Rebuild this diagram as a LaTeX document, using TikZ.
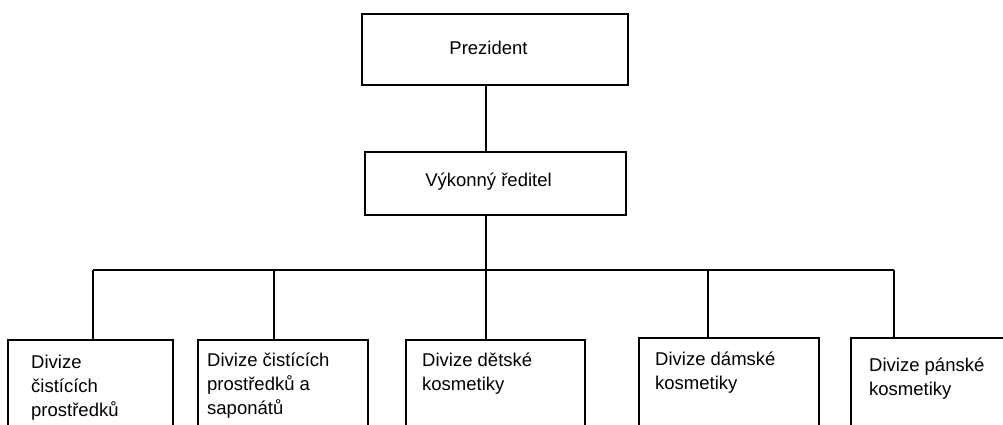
\documentclass[tikz,border=0pt]{standalone}
\usepackage{fontspec}
\setmainfont{Liberation Sans}
\begin{document}
\begin{tikzpicture}[x=1pt, y=-1pt,
  orgbox/.style={draw=black, line width=1.2pt, inner sep=0pt, outer sep=0pt},
  link/.style={draw=black, line width=1.2pt},
  caption/.style={font=\fontsize{18.5}{24}\selectfont, inner sep=0pt, anchor=base},
  unittext/.style={font=\fontsize{18.5}{24}\selectfont, inner sep=0pt, anchor=base west}]
  \useasboundingbox (0,0) rectangle (1003,424);
  \clip (0,0) rectangle (1003,424);

  % top of the chart
  \node[orgbox, minimum width=266pt, minimum height=71pt] (pres) at (495,49.5) {};
  \node[orgbox, minimum width=261pt, minimum height=63pt] (exec) at (495.5,183.5) {};
  \node[caption] (presT) at (488.5,54.5) {Prezident};
  \node[caption] (execT) at (488.5,186.5) {Výkonný ředitel};

  % divisions (their lower edges run off the page)
  \node[orgbox, anchor=north west, minimum width=165pt, minimum height=120pt] (d1) at (8,340) {};
  \node[orgbox, anchor=north west, minimum width=170pt, minimum height=120pt] (d2) at (198,340) {};
  \node[orgbox, anchor=north west, minimum width=179pt, minimum height=120pt] (d3) at (406,340) {};
  \node[orgbox, anchor=north west, minimum width=180pt, minimum height=120pt] (d4) at (639,338) {};
  \node[orgbox, anchor=north west, minimum width=170pt, minimum height=120pt] (d5) at (851,338) {};

  \node[unittext] (t1) at (31,368) {\begin{tabular}[t]{@{}l@{}}Divize\\čistících\\prostředků\end{tabular}};
  \node[unittext] (t2) at (207,366) {\begin{tabular}[t]{@{}l@{}}Divize čistících\\prostředků a\\saponátů\end{tabular}};
  \node[unittext] (t3) at (422,366) {\begin{tabular}[t]{@{}l@{}}Divize dětské\\kosmetiky\end{tabular}};
  \node[unittext] (t4) at (655,365) {\begin{tabular}[t]{@{}l@{}}Divize dámské\\kosmetiky\end{tabular}};
  \node[unittext] (t5) at (869,371) {\begin{tabular}[t]{@{}l@{}}Divize pánské\\kosmetiky\end{tabular}};

  % bus line and its junctions
  \coordinate (j1) at (93,270);
  \coordinate (j2) at (274,270);
  \coordinate (j3) at (486,270);
  \coordinate (j4) at (708,270);
  \coordinate (j5) at (894,270);

  \draw[link] (pres.south -| j3) -- (exec.north -| j3);
  \draw[link] (exec.south -| j3) -- (j3);
  \draw[link] (j1) -- (j5);
  \foreach \i in {1,...,5} {
    \draw[link] (j\i) -- (j\i |- d\i.north);
  }
\end{tikzpicture}
\end{document}
